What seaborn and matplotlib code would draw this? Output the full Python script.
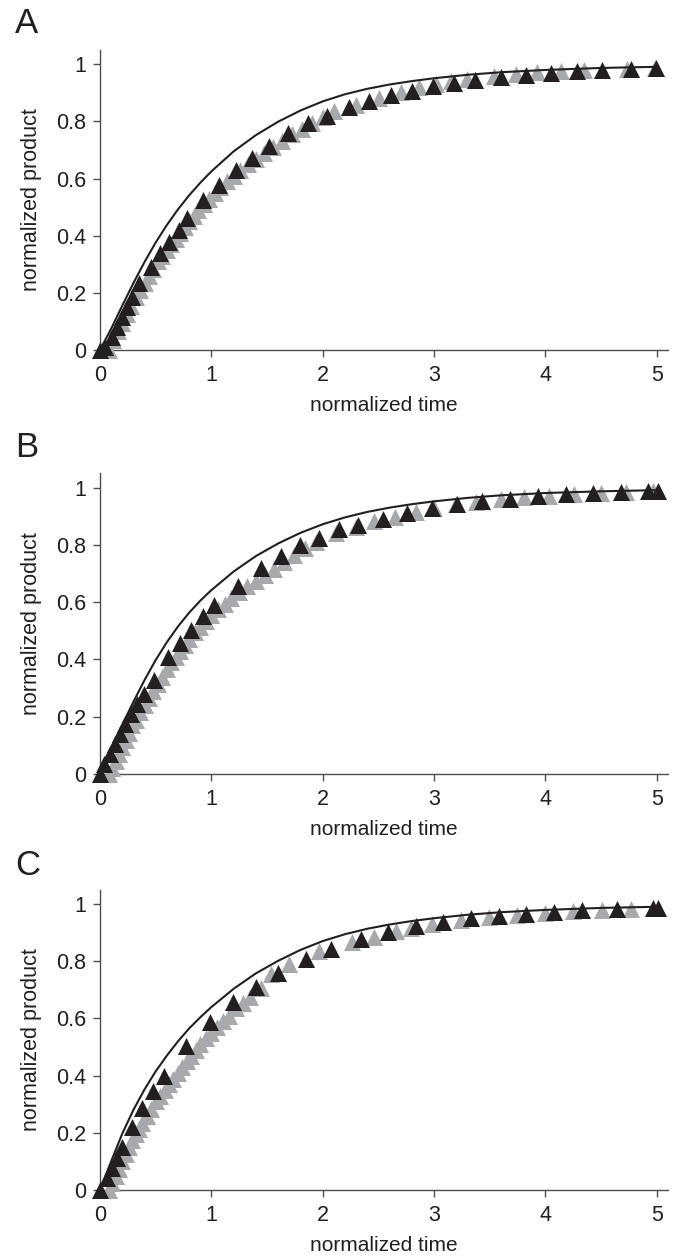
import numpy as np
import pandas as pd
import matplotlib
matplotlib.use('Agg')
import matplotlib.pyplot as plt
import seaborn as sns

# ---- data ----
fit_t = [0, 0.1, 0.2, 0.3, 0.4, 0.5, 0.6, 0.7, 0.8, 0.9, 1.0, 1.2, 1.4, 1.6, 1.8, 2.0,
         2.2, 2.4, 2.6, 2.8, 3.0, 3.3, 3.6, 4.0, 4.5, 5.0]

# panel A
a_fit_p = [0, 0.074, 0.155, 0.234, 0.308, 0.376, 0.437, 0.492, 0.541, 0.585, 0.625, 0.695, 0.752, 0.799,
           0.838, 0.87, 0.895, 0.914, 0.929, 0.941, 0.951, 0.963, 0.972, 0.980, 0.987, 0.991]
a_black_t = [0.0, 0.049, 0.109, 0.154, 0.199, 0.244, 0.289, 0.349, 0.454, 0.535, 0.618, 0.708, 0.783, 0.924,
             1.067, 1.217, 1.361, 1.517, 1.690, 1.870, 2.04, 2.235, 2.415, 2.611, 2.799, 2.990, 3.179, 3.368,
             3.598, 3.823, 4.053, 4.281, 4.511, 4.766, 4.996]
a_black_p = [0.0, 0.012, 0.047, 0.082, 0.117, 0.152, 0.187, 0.233, 0.292, 0.338, 0.379, 0.420, 0.461, 0.525,
             0.578, 0.630, 0.671, 0.714, 0.761, 0.793, 0.82, 0.852, 0.873, 0.893, 0.908, 0.925, 0.936, 0.945,
             0.957, 0.964, 0.971, 0.977, 0.980, 0.985, 0.987]
a_gray_t = [0.08, 0.12, 0.16, 0.20, 0.24, 0.28, 0.32, 0.36, 0.40, 0.44, 0.48, 0.52, 0.56, 0.60, 0.64, 0.68, 0.72,
            0.76, 0.80, 0.84, 0.88, 0.93, 0.98, 1.03, 1.08, 1.14, 1.20, 1.26, 1.33, 1.40, 1.47, 1.55, 1.63, 1.72,
            1.81, 1.90, 2.00, 2.10, 2.295, 2.505, 2.700, 2.864, 3.014, 3.149, 3.299, 3.538, 3.733, 3.928, 4.137,
            4.347, 4.736, 4.98]
a_gray_p = [0.0, 0.035, 0.065, 0.095, 0.125, 0.155, 0.185, 0.21, 0.235, 0.26, 0.285, 0.31, 0.33, 0.35, 0.37, 0.39,
            0.41, 0.43, 0.45, 0.47, 0.49, 0.51, 0.53, 0.55, 0.57, 0.59, 0.61, 0.63, 0.65, 0.67, 0.69, 0.71, 0.73,
            0.755, 0.775, 0.795, 0.815, 0.835, 0.858, 0.882, 0.903, 0.92, 0.932, 0.942, 0.95, 0.96, 0.967, 0.972,
            0.977, 0.981, 0.985, 0.987]

# panel B
b_fit_p = [0, 0.087, 0.172, 0.252, 0.328, 0.398, 0.46, 0.515, 0.563, 0.605, 0.642, 0.707, 0.761, 0.805,
           0.842, 0.872, 0.896, 0.915, 0.93, 0.942, 0.952, 0.964, 0.973, 0.981, 0.987, 0.991]
b_black_t = [0.0, 0.034, 0.094, 0.139, 0.184, 0.229, 0.274, 0.334, 0.394, 0.483, 0.612, 0.714, 0.819, 0.924,
             1.028, 1.238, 1.448, 1.621, 1.792, 1.966, 2.146, 2.319, 2.541, 2.760, 2.984, 3.209, 3.433, 3.679,
             3.934, 4.182, 4.428, 4.676, 4.916, 5.006]
b_black_p = [0.0, 0.035, 0.070, 0.105, 0.140, 0.175, 0.210, 0.246, 0.281, 0.330, 0.409, 0.456, 0.503, 0.550,
             0.591, 0.658, 0.719, 0.760, 0.798, 0.825, 0.854, 0.871, 0.891, 0.912, 0.930, 0.944, 0.953, 0.961,
             0.971, 0.976, 0.982, 0.985, 0.988, 0.988]
b_gray_t = [0.08, 0.11, 0.14, 0.17, 0.20, 0.23, 0.26, 0.29, 0.32, 0.36, 0.40, 0.44, 0.48, 0.52, 0.56, 0.60, 0.64,
            0.68, 0.72, 0.76, 0.80, 0.85, 0.90, 0.95, 1.00, 1.06, 1.12, 1.18, 1.25, 1.32, 1.40, 1.48, 1.56, 1.65,
            1.74, 1.84, 1.94, 2.116, 2.295, 2.460, 2.649, 2.834, 2.999, 3.194, 3.373, 3.598, 3.808, 4.032, 4.257,
            4.497, 4.721, 4.961]
b_gray_p = [0.0, 0.02, 0.045, 0.07, 0.095, 0.12, 0.145, 0.17, 0.19, 0.215, 0.24, 0.265, 0.29, 0.315, 0.34, 0.365,
            0.39, 0.41, 0.43, 0.45, 0.47, 0.495, 0.515, 0.535, 0.555, 0.575, 0.595, 0.615, 0.635, 0.655, 0.675,
            0.695, 0.715, 0.74, 0.765, 0.79, 0.81, 0.843, 0.862, 0.882, 0.898, 0.915, 0.928, 0.942, 0.95, 0.96,
            0.966, 0.972, 0.977, 0.981, 0.984, 0.987]

# panel C
c_fit_p = [0, 0.1, 0.197, 0.28, 0.352, 0.415, 0.47, 0.52, 0.565, 0.604, 0.64, 0.704, 0.758, 0.802,
           0.84, 0.871, 0.895, 0.914, 0.929, 0.941, 0.951, 0.963, 0.972, 0.980, 0.987, 0.991]
c_black_t = [0.0, 0.064, 0.109, 0.154, 0.199, 0.289, 0.379, 0.474, 0.573, 0.774, 0.984, 1.193, 1.397, 1.600,
             1.846, 2.07, 2.340, 2.589, 2.834, 3.080, 3.329, 3.583, 3.829, 4.077, 4.326, 4.640, 4.961, 5.006]
c_black_p = [0.0, 0.041, 0.076, 0.111, 0.152, 0.222, 0.287, 0.345, 0.398, 0.503, 0.587, 0.657, 0.711, 0.760,
             0.809, 0.842, 0.877, 0.901, 0.924, 0.936, 0.950, 0.959, 0.967, 0.974, 0.979, 0.982, 0.988, 0.988]
c_gray_t = [0.08, 0.11, 0.14, 0.17, 0.20, 0.23, 0.26, 0.29, 0.32, 0.35, 0.38, 0.42, 0.46, 0.50, 0.54, 0.58, 0.62,
            0.66, 0.70, 0.74, 0.78, 0.82, 0.86, 0.90, 0.95, 1.00, 1.05, 1.10, 1.16, 1.22, 1.28, 1.35, 1.45, 1.533,
            1.696, 1.966, 2.265, 2.460, 2.655, 2.789, 2.984, 3.239, 3.493, 3.748, 3.996, 4.248, 4.506, 4.766]
c_gray_p = [0.0, 0.025, 0.05, 0.075, 0.10, 0.125, 0.15, 0.175, 0.195, 0.215, 0.235, 0.26, 0.285, 0.31, 0.33, 0.35,
            0.37, 0.39, 0.41, 0.43, 0.45, 0.47, 0.49, 0.51, 0.53, 0.55, 0.57, 0.59, 0.61, 0.635, 0.655, 0.675,
            0.705, 0.755, 0.79, 0.835, 0.868, 0.886, 0.906, 0.918, 0.932, 0.945, 0.955, 0.963, 0.97, 0.975,
            0.979, 0.983]

panels = [
    ('A', a_fit_p, a_black_t, a_black_p, a_gray_t, a_gray_p),
    ('B', b_fit_p, b_black_t, b_black_p, b_gray_t, b_gray_p),
    ('C', c_fit_p, c_black_t, c_black_p, c_gray_t, c_gray_p),
]

x_ticks = [0, 1, 2, 3, 4, 5]
y_ticks = [0, 0.2, 0.4, 0.6, 0.8, 1]
y_tick_labels = ['0', '0.2', '0.4', '0.6', '0.8', '1']

sns.set_style('ticks')
plt.rcParams['font.family'] = ['Liberation Sans', 'DejaVu Sans']

BLACK = '#231f20'
GRAY = '#a7a9ac'
AXIS = '#4d4d4f'

fig = plt.figure(figsize=(6.77, 12.58), dpi=100)

# axes boxes [left, bottom, width, height] and letter baselines (figure fractions)
boxes = [[0.1477, 0.7218, 0.839, 0.2385],
         [0.1477, 0.3847, 0.839, 0.2391],
         [0.1477, 0.0541, 0.839, 0.2385]]
letter_y = [0.9738, 0.6367, 0.3045]

for (letter, fp, bt, bp, gt, gp), box, ly in zip(panels, boxes, letter_y):
    ax = fig.add_axes(box)
    gray_df = pd.DataFrame({'t': gt, 'p': gp})
    black_df = pd.DataFrame({'t': bt, 'p': bp})
    fit_df = pd.DataFrame({'t': fit_t, 'p': fp})

    sns.scatterplot(data=gray_df, x='t', y='p', marker='^', s=150, color=GRAY,
                    linewidth=0, clip_on=False, zorder=3, ax=ax)
    sns.scatterplot(data=black_df, x='t', y='p', marker='^', s=150, color=BLACK,
                    linewidth=0, clip_on=False, zorder=4, ax=ax)
    sns.lineplot(data=fit_df, x='t', y='p', color=BLACK, linewidth=1.5, zorder=5, ax=ax)

    ax.set_xlim(0, 5.1)
    ax.set_ylim(0, 1.05)
    ax.set_xticks(x_ticks)
    ax.set_xticklabels([str(v) for v in x_ticks])
    ax.set_yticks(y_ticks)
    ax.set_yticklabels(y_tick_labels)
    ax.set_xlabel('normalized time', fontsize=15, color=BLACK, labelpad=7)
    ax.set_ylabel('normalized product', fontsize=15.5, color=BLACK, labelpad=10)
    ax.tick_params(direction='out', length=5, width=1, color=AXIS, labelsize=15.5,
                   labelcolor=BLACK)
    ax.tick_params(axis='x', pad=6)
    ax.tick_params(axis='y', pad=5)
    sns.despine(ax=ax)
    for side in ['left', 'bottom']:
        ax.spines[side].set_color(AXIS)
        ax.spines[side].set_linewidth(1)

    fig.text(0.022, ly, letter, fontsize=25, color=BLACK, va='baseline', ha='left')

fig.savefig('out.png', dpi=100)
